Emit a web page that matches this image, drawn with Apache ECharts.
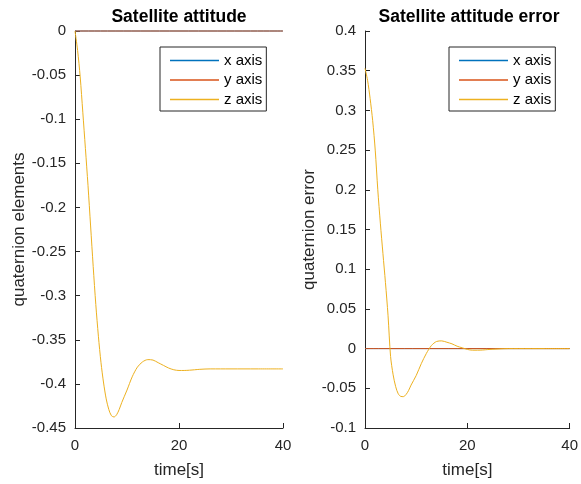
<!DOCTYPE html>
<html>
<head>
<meta charset="utf-8">
<script src="https://cdn.jsdelivr.net/npm/echarts@6/dist/echarts.min.js"></script>
<style>
html, body { margin: 0; padding: 0; background: #fff; }
#ct1 { width: 581px; height: 484px; }
</style>
</head>
<body>
<div id="ct1"></div>
<script>
// time samples (s)
var time = [0, 0.5, 1, 1.5, 2, 2.5, 3, 3.5, 4, 4.5, 5, 5.5, 6, 6.5, 7, 7.5, 8, 8.5, 9, 10,
	11, 12, 13, 14, 15, 16, 17, 18, 19, 20, 21, 22, 23, 24, 26, 28, 30, 35, 40];

// satellite attitude, z quaternion element
var attZ = [0, -0.022, -0.052, -0.092, -0.133, -0.175, -0.221, -0.267, -0.31, -0.346, -0.376, -0.399, -0.417, -0.429, -0.436, -0.4375, -0.435, -0.429, -0.421, -0.407,
	-0.392, -0.381, -0.375, -0.3725, -0.373, -0.376, -0.379, -0.382, -0.384, -0.3848, -0.3848, -0.3845, -0.384, -0.3835, -0.383, -0.383, -0.383, -0.383, -0.383];

// attitude error, z quaternion element
var errZ = [0.353, 0.338, 0.315, 0.287, 0.25, 0.2, 0.158, 0.12, 0.083, 0.042, -0.01, -0.033, -0.048, -0.057, -0.0602, -0.0605, -0.058, -0.053, -0.046, -0.034,
	-0.019, -0.006, 0.004, 0.009, 0.0097, 0.008, 0.006, 0.003, 0.001, -0.001, -0.002, -0.002, -0.0018, -0.0012, -0.0005, 0, 0, 0, 0];

// x and y elements stay at zero
var flatT = [0, 40];
var attX = [0, 0];
var attY = [0, 0];
var errX = [0, 0];
var errY = [0, 0];

var names = ['x axis', 'y axis', 'z axis'];
var colors = ['#0072BD', '#D95319', '#EDB120'];
var titles = ['Satellite attitude', 'Satellite attitude error'];
var yNames = ['quaternion elements', 'quaternion error'];

var txt = '#262626';
var font = 'Liberation Sans, Arial, Helvetica, sans-serif';

function pairs(xs, ys) {
	var out = [];
	for (var i = 0; i < xs.length; i++) {
		out.push([xs[i], ys[i]]);
	}
	return out;
}

function makeAxis(opt) {
	return {
		type: 'value',
		gridIndex: opt.grid,
		min: opt.min,
		max: opt.max,
		interval: opt.interval,
		name: opt.name,
		nameLocation: 'middle',
		nameGap: opt.nameGap,
		nameTextStyle: { color: txt, fontSize: 17, fontFamily: font },
		axisLine: { show: true, onZero: false, lineStyle: { color: txt, width: 1 } },
		axisTick: { show: true, inside: true, length: 5, lineStyle: { color: txt } },
		axisLabel: { color: txt, fontSize: 15, fontFamily: font, margin: opt.margin },
		splitLine: { show: false }
	};
}

function makeSeries(name, color, data, idx) {
	return {
		name: name,
		type: 'line',
		xAxisIndex: idx,
		yAxisIndex: idx,
		data: data,
		smooth: 0.3,
		symbol: 'none',
		clip: false,
		animation: false,
		lineStyle: { color: color, width: 1 },
		itemStyle: { color: color }
	};
}

function makeLegend(left) {
	return {
		data: names,
		orient: 'vertical',
		left: left,
		top: 47,
		icon: 'rect',
		itemWidth: 49,
		itemHeight: 1.6,
		itemGap: 4.5,
		padding: [6, 4, 4, 10],
		borderColor: txt,
		borderWidth: 1,
		backgroundColor: '#fff',
		selectedMode: false,
		textStyle: { color: '#000', fontSize: 15, lineHeight: 15, fontFamily: font }
	};
}

var option1 = {
	backgroundColor: '#fff',
	animation: false,
	color: colors,
	title: [
		{ text: titles[0], left: 174, top: 3, textAlign: 'center',
			textStyle: { fontSize: 17.5, fontWeight: 'bold', color: '#000', fontFamily: font } },
		{ text: titles[1], left: 464, top: 3, textAlign: 'center',
			textStyle: { fontSize: 17.5, fontWeight: 'bold', color: '#000', fontFamily: font } }
	],
	legend: [makeLegend(160), makeLegend(449)],
	grid: [
		{ left: 75, top: 31, width: 208, height: 400 },
		{ left: 365, top: 31, width: 207, height: 400 }
	],
	xAxis: [
		makeAxis({ grid: 0, min: 0, max: 40, interval: 20, name: 'time[s]', nameGap: 34, margin: 10 }),
		makeAxis({ grid: 1, min: 0, max: 40, interval: 20, name: 'time[s]', nameGap: 34, margin: 10 })
	],
	yAxis: [
		makeAxis({ grid: 0, min: -0.45, max: 0, interval: 0.05, name: yNames[0], nameGap: 44, margin: 9 }),
		makeAxis({ grid: 1, min: -0.1, max: 0.4, interval: 0.05, name: yNames[1], nameGap: 44, margin: 9 })
	],
	series: [
		makeSeries(names[0], colors[0], pairs(flatT, attX), 0),
		makeSeries(names[1], colors[1], pairs(flatT, attY), 0),
		makeSeries(names[2], colors[2], pairs(time, attZ), 0),
		makeSeries(names[0], colors[0], pairs(flatT, errX), 1),
		makeSeries(names[1], colors[1], pairs(flatT, errY), 1),
		makeSeries(names[2], colors[2], pairs(time, errZ), 1)
	]
};

var myChart1 = echarts.init(document.getElementById('ct1'), null, { renderer: 'canvas' });
myChart1.setOption(option1, true);
</script>
</body>
</html>
